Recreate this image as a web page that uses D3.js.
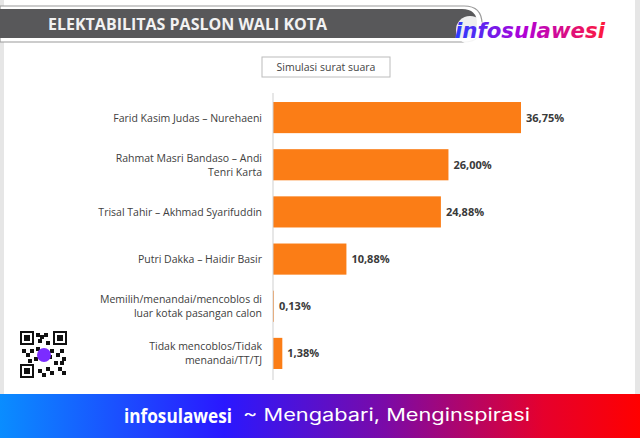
<!DOCTYPE html>
<html><head><meta charset="utf-8">
<script src="https://cdn.jsdelivr.net/npm/d3@7"></script>
<style>html,body{margin:0;padding:0;background:#fff;}svg{display:block;}</style>
</head><body>
<svg id="c" width="640" height="438"></svg>
<script>
const categories = [
  ["Farid Kasim Judas – Nurehaeni"],
  ["Rahmat Masri Bandaso – Andi", "Tenri Karta"],
  ["Trisal Tahir – Akhmad Syarifuddin"],
  ["Putri Dakka – Haidir Basir"],
  ["Memilih/menandai/mencoblos di", "luar kotak pasangan calon"],
  ["Tidak mencoblos/Tidak", "menandai/TT/TJ"]
];
const values = [36.75, 26.00, 24.88, 10.88, 0.13, 1.38];
const valueLabels = ["36,75%", "26,00%", "24,88%", "10,88%", "0,13%", "1,38%"];
const title = "ELEKTABILITAS PASLON WALI KOTA";
const subtitle = "Simulasi surat suara";

const svg = d3.select("#c");
const defs = svg.append("defs");

// frame
svg.append("rect").attr("x",0).attr("y",0).attr("width",640).attr("height",438).attr("fill","#e6e6e6");
svg.append("rect").attr("x",4).attr("y",0).attr("width",631).attr("height",395).attr("fill","#fff");

// header band
svg.append("path")
  .attr("d","M0,6 H464 Q482,6 482,24 Q482,42 464,42 H0 Z")
  .attr("fill","#fff").attr("stroke","#9a9a9a").attr("stroke-width",1.2);
svg.append("path")
  .attr("d","M0,9 H462 Q477,9 477,23.5 Q477,38 462,38 H0 Z")
  .attr("fill","#58585a");
svg.append("text").attr("x",48).attr("y",29.5).text(title)
  .attr("fill","#f2f2f2").attr("font-family","Open Sans, Liberation Sans, sans-serif")
  .attr("font-weight","bold").attr("font-size",16);

// logo top right
const lg = defs.append("linearGradient").attr("id","lg").attr("x1","0").attr("x2","1");
lg.append("stop").attr("offset","0").attr("stop-color","#2a3cff");
lg.append("stop").attr("offset","0.45").attr("stop-color","#b000d8");
lg.append("stop").attr("offset","1").attr("stop-color","#ff1a3a");
svg.append("circle").attr("cx",470).attr("cy",30).attr("r",14).attr("fill","#fff").attr("opacity",0.9);
svg.append("text").attr("x",455).attr("y",38).text("infosulawesi")
  .attr("fill","url(#lg)").attr("font-family","DejaVu Sans, sans-serif")
  .attr("font-weight","bold").attr("font-style","italic").attr("font-size",21)
  .attr("textLength",150).attr("lengthAdjust","spacingAndGlyphs");

// subtitle box
svg.append("rect").attr("x",262).attr("y",57).attr("width",128).attr("height",20)
  .attr("fill","#fff").attr("stroke","#bcbcbc");
svg.append("text").attr("x",326).attr("y",71).attr("text-anchor","middle").text(subtitle)
  .attr("fill","#444").attr("font-family","Open Sans, sans-serif").attr("font-size",10.5);

// chart
const x0 = 273;
const x = d3.scaleLinear().domain([0, 36.75]).range([x0, 521]);
const y = d3.scaleBand().domain(d3.range(values.length)).range([94, 377]).paddingInner(0.34).paddingOuter(0.17);

const g = svg.append("g");
g.selectAll("rect.bar").data(values).join("rect").attr("class","bar")
  .attr("x", x(0)).attr("y",(d,i)=>y(i)).attr("width",d=>x(d)-x(0)).attr("height",y.bandwidth())
  .attr("fill","#fb7d16");

g.append("line").attr("x1",x0).attr("x2",x0).attr("y1",93).attr("y2",380)
  .attr("stroke","#cfcfcf").attr("stroke-width",1);

g.selectAll("text.val").data(values).join("text").attr("class","val")
  .attr("x",d=>x(d)+5).attr("y",(d,i)=>y(i)+y.bandwidth()/2+4)
  .text((d,i)=>valueLabels[i])
  .attr("fill","#3a3a3a").attr("font-family","Open Sans, sans-serif").attr("font-weight","bold").attr("font-size",11);

categories.forEach((lines,i)=>{
  const cy = y(i)+y.bandwidth()/2;
  const lh = 14;
  const t = g.append("text").attr("text-anchor","end")
    .attr("fill","#404040").attr("font-family","Open Sans, sans-serif").attr("font-size",10.5);
  lines.forEach((s,j)=>{
    t.append("tspan").attr("x",262).attr("y",cy+4+(j-(lines.length-1)/2)*lh).text(s);
  });
});

// QR decoration
const qr = svg.append("g").attr("transform","translate(20,331)");
qr.append("rect").attr("width",47).attr("height",47).attr("fill","#fff");
[[0,0],[33,0],[0,33]].forEach(([a,b])=>{
  qr.append("rect").attr("x",a+1).attr("y",b+1).attr("width",12).attr("height",12).attr("fill","none").attr("stroke","#111").attr("stroke-width",2);
  qr.append("rect").attr("x",a+4).attr("y",b+4).attr("width",6).attr("height",6).attr("fill","#111");
});
const qcells = [[16,2],[20,4],[24,2],[18,8],[26,10],[2,18],[6,22],[10,18],[14,26],[30,18],[36,22],[40,18],[42,26],[34,30],[38,36],[42,40],[30,40],[18,38],[22,42],[26,36],[16,16],[28,24],[8,28],[40,30]];
qcells.forEach(([a,b])=>qr.append("rect").attr("x",a).attr("y",b).attr("width",4).attr("height",4).attr("fill","#111"));
qr.append("circle").attr("cx",24).attr("cy",24).attr("r",7).attr("fill","#7b2cff");

// footer
const fg = defs.append("linearGradient").attr("id","fg").attr("x1","0").attr("x2","1");
fg.append("stop").attr("offset","0").attr("stop-color","#0a8dff");
fg.append("stop").attr("offset","0.35").attr("stop-color","#2a18ff");
fg.append("stop").attr("offset","0.6").attr("stop-color","#7a0aa8");
fg.append("stop").attr("offset","0.85").attr("stop-color","#e6002c");
fg.append("stop").attr("offset","1").attr("stop-color","#ff0000");
svg.append("rect").attr("x",0).attr("y",394).attr("width",640).attr("height",44).attr("fill","url(#fg)");
svg.append("text").attr("x",124).attr("y",423).text("infosulawesi")
  .attr("fill","#fff").attr("font-family","Open Sans, sans-serif").attr("font-weight","bold").attr("font-size",19)
  .attr("textLength",108).attr("lengthAdjust","spacingAndGlyphs");
svg.append("text").attr("x",243).attr("y",421).text("~ Mengabari, Menginspirasi")
  .attr("fill","#fff").attr("font-family","Inter, sans-serif").attr("font-size",17)
  .attr("textLength",287).attr("lengthAdjust","spacingAndGlyphs");
</script>
</body></html>
